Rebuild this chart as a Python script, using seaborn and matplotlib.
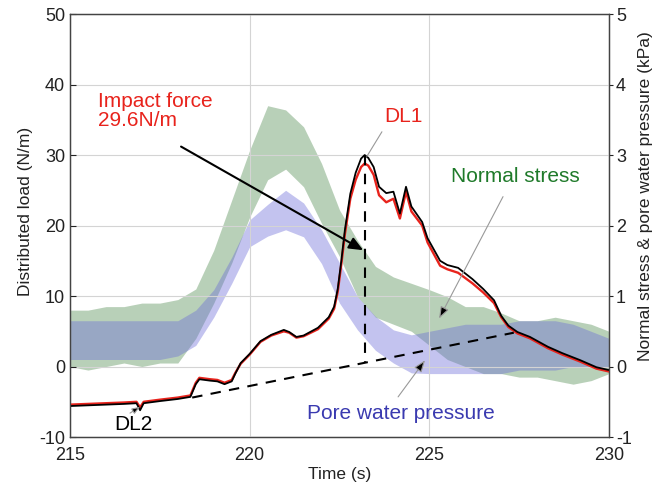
import numpy as np
import pandas as pd
import matplotlib
matplotlib.use("Agg")
import matplotlib.pyplot as plt
import seaborn as sns

sns.set_theme(style="white")
plt.rcParams['font.family'] = ['Liberation Sans', 'DejaVu Sans']
plt.rcParams['axes.unicode_minus'] = False

# ---- DL2 (black) distributed load, N/m ----
dl2_t = [215.0, 215.5, 216.0, 216.5, 216.85, 216.95, 217.05, 217.5, 218.0, 218.35, 218.5, 218.6,
         218.9, 219.1, 219.3, 219.5, 219.6, 219.75, 220.0, 220.3, 220.6, 220.95, 221.1, 221.3,
         221.5, 221.9, 222.2, 222.35, 222.45, 222.55, 222.65, 222.8, 222.95, 223.1, 223.2, 223.3,
         223.45, 223.6, 223.8, 224.0, 224.18, 224.35, 224.5, 224.8, 224.95, 225.3, 225.5, 225.8,
         226.2, 226.5, 226.8, 227.0, 227.2, 227.45, 227.8, 228.3, 228.7, 229.2, 229.65, 230.0]
dl2_y = [-5.6, -5.5, -5.4, -5.3, -5.2, -6.2, -5.2, -4.9, -4.6, -4.3, -2.5, -1.8,
         -2.0, -2.1, -2.5, -2.1, -1.0, 0.5, 1.8, 3.6, 4.5, 5.2, 4.9, 4.2,
         4.4, 5.5, 7.0, 8.5, 11.0, 15.0, 19.4, 24.5, 27.5, 29.5, 30.0, 29.6,
         28.3, 25.5, 24.6, 24.8, 21.7, 25.5, 22.7, 20.5, 18.2, 15.0, 14.4, 14.0,
         12.4, 11.0, 9.4, 7.2, 5.8, 4.9, 4.2, 2.8, 1.9, 0.9, -0.1, -0.5]
# ---- DL1 (red) distributed load, N/m ----
dl1_y = [-5.4, -5.3, -5.2, -5.1, -5.0, -5.8, -5.0, -4.7, -4.4, -4.1, -2.3, -1.6,
         -1.8, -1.9, -2.3, -1.9, -0.9, 0.4, 1.7, 3.5, 4.4, 5.0, 4.8, 4.1,
         4.3, 5.3, 6.8, 8.2, 10.6, 14.5, 18.8, 23.8, 26.5, 28.3, 28.8, 28.5,
         27.2, 24.3, 23.3, 23.8, 21.0, 24.8, 22.0, 20.0, 17.6, 14.3, 13.8, 13.3,
         11.8, 10.5, 9.0, 7.0, 5.6, 4.7, 4.0, 2.6, 1.7, 0.7, -0.3, -0.7]

# ---- Normal stress and pore water pressure envelopes, kPa ----
env_t = [215.0, 215.5, 216.0, 216.5, 217.0, 217.5, 218.0, 218.5, 219.0, 219.5, 220.0,
         220.5, 221.0, 221.5, 222.0, 222.5, 223.0, 223.5, 224.0, 224.5, 225.0,
         225.5, 226.0, 226.5, 227.0, 227.5, 228.0, 228.5, 229.0, 229.5, 230.0]
normal_hi = [0.80, 0.80, 0.85, 0.85, 0.90, 0.90, 0.95, 1.10, 1.65, 2.36, 3.07,
             3.70, 3.64, 3.40, 2.88, 2.22, 1.79, 1.42, 1.27, 1.18, 1.09,
             0.99, 0.85, 0.85, 0.76, 0.65, 0.65, 0.70, 0.65, 0.60, 0.50]
normal_lo = [0.00, -0.05, 0.00, 0.05, 0.00, 0.05, 0.05, 0.40, 0.90, 1.47, 2.12,
             2.65, 2.80, 2.55, 2.03, 1.56, 0.99, 0.70, 0.60, 0.50, 0.30,
             0.10, 0.00, -0.10, -0.10, -0.15, -0.15, -0.20, -0.25, -0.20, -0.10]
pore_hi = [0.65, 0.65, 0.65, 0.65, 0.65, 0.65, 0.65, 0.80, 1.09, 1.55, 2.08,
           2.30, 2.50, 2.32, 1.94, 1.47, 0.99, 0.71, 0.52, 0.45, 0.50,
           0.55, 0.60, 0.60, 0.60, 0.65, 0.65, 0.65, 0.60, 0.50, 0.40]
pore_lo = [0.10, 0.10, 0.10, 0.10, 0.10, 0.10, 0.15, 0.30, 0.70, 1.18, 1.70,
           1.85, 1.94, 1.84, 1.46, 0.90, 0.52, 0.23, 0.05, -0.09, -0.10,
           -0.10, -0.10, -0.10, -0.10, -0.05, -0.05, -0.05, 0.00, 0.00, 0.00]

# ---- construction lines ----
base_t = [218.4, 227.35]
base_y = [-4.4, 4.8]
peak_t = [223.2, 223.2]
peak_y = [30.0, 0.53]

dl = pd.DataFrame({"t": dl2_t, "DL1": dl1_y, "DL2": dl2_y})
env = pd.DataFrame({"t": env_t, "n_hi": normal_hi, "n_lo": normal_lo,
                    "p_hi": pore_hi, "p_lo": pore_lo})

fig = plt.figure(figsize=(6.7, 4.84), dpi=100)
ax = fig.add_axes([0.1045, 0.097, 0.8045, 0.874])
ax2 = ax.twinx()
ax.set_zorder(ax2.get_zorder() + 1)
ax.patch.set_visible(False)

# bands on right axis
ax2.fill_between(env["t"], env["n_lo"], env["n_hi"], color="#4f8a4f", alpha=0.40, lw=0)
ax2.fill_between(env["t"], env["p_lo"], env["p_hi"], color="#6a6ad8", alpha=0.40, lw=0)

sns.lineplot(data=dl, x="t", y="DL1", ax=ax, color="#e8231c", lw=1.7, legend=False,
             estimator=None, sort=False)
sns.lineplot(data=dl, x="t", y="DL2", ax=ax, color="black", lw=1.3, legend=False,
             estimator=None, sort=False)
sns.lineplot(x=base_t, y=base_y, ax=ax, color="black", lw=1.5, linestyle=(0, (5, 4)),
             estimator=None, sort=False)
sns.lineplot(x=peak_t, y=peak_y, ax=ax, color="black", lw=1.5, linestyle=(0, (5, 4)),
             estimator=None, sort=False)

ax.set_xlim(215, 230)
ax.set_ylim(-10, 50)
ax2.set_ylim(-1, 5)
ax.set_xticks([215, 220, 225, 230])
ax.set_yticks([-10, 0, 10, 20, 30, 40, 50])
ax2.set_yticks([-1, 0, 1, 2, 3, 4, 5])
ax.grid(True, color="#d4d4d4", lw=0.8)
ax2.grid(False)

tc = "#222222"
for a in (ax, ax2):
    for s in a.spines.values():
        s.set_color("#444444")
        s.set_linewidth(0.9)
ax.tick_params(axis="both", labelsize=13, colors=tc, direction="in", length=4, width=0.8)
ax2.tick_params(axis="y", labelsize=13, colors=tc, direction="out", length=3, width=0.8, pad=2)
ax.tick_params(axis="x", pad=7)

ax.set_xlabel("Time (s)", fontsize=12.5, color=tc, labelpad=2)
ax.set_ylabel("Distributed load (N/m)", fontsize=12.5, color=tc)
ax2.set_ylabel("Normal stress & pore water pressure (kPa)", fontsize=12.5, color=tc)
ax.yaxis.set_label_coords(-0.068, 0.534)
ax2.yaxis.set_label_coords(1.054, 0.57)

# annotations
ax.text(215.78, 39.0, "Impact force\n29.6N/m", color="#e8231c", fontsize=15,
        ha="left", va="top", linespacing=1.05)
ax.annotate("", xy=(223.16, 16.5), xytext=(218.09, 31.2),
            arrowprops=dict(arrowstyle="-|>,head_length=0.7,head_width=0.3",
                            color="black", lw=1.5, shrinkA=0, shrinkB=0))
ax.text(224.27, 35.4, "DL1", color="#e8231c", fontsize=15, ha="center", va="center")
ax.annotate("", xy=(223.26, 29.8), xytext=(223.68, 33.3),
            arrowprops=dict(arrowstyle="-", color="#999999", lw=0.8, shrinkA=0, shrinkB=0))
ax.text(227.39, 26.9, "Normal stress", color="#1f7a2a", fontsize=15, ha="center", va="center")
ax.annotate("", xy=(225.27, 6.8), xytext=(227.05, 24.1),
            arrowprops=dict(arrowstyle="-|>,head_length=0.6,head_width=0.22",
                            fc="black", ec="#999999", lw=0.8, shrinkA=0, shrinkB=0))
ax.text(224.21, -6.7, "Pore water pressure", color="#3a3ab0", fontsize=15, ha="center", va="center")
ax.annotate("", xy=(224.88, 0.9), xytext=(224.13, -4.3),
            arrowprops=dict(arrowstyle="-|>,head_length=0.6,head_width=0.22",
                            fc="black", ec="#999999", lw=0.8, shrinkA=0, shrinkB=0))
ax.text(216.75, -8.2, "DL2", color="black", fontsize=15, ha="center", va="center")
ax.annotate("", xy=(216.95, -5.7), xytext=(216.67, -6.6),
            arrowprops=dict(arrowstyle="-|>,head_length=0.4,head_width=0.15",
                            fc="black", ec="#999999", lw=0.8, shrinkA=0, shrinkB=0))

fig.savefig("out.png", dpi=100)
